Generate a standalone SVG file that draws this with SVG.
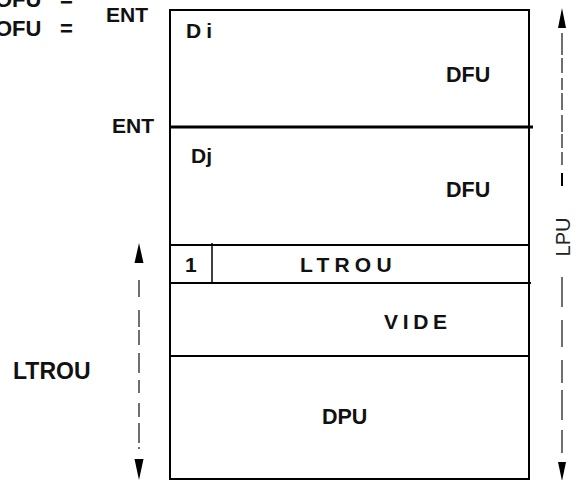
<svg xmlns="http://www.w3.org/2000/svg" width="586" height="480" viewBox="0 0 586 480">
  <style>
    .lbl { font-family: "Liberation Sans", Arial, sans-serif; font-weight: bold; fill: #111; }
    .thin { font-family: "Liberation Sans", Arial, sans-serif; font-weight: normal; fill: #222; }
    .wall { stroke: #000; stroke-width: 2; fill: none; }
    .heavy { stroke: #000; stroke-width: 3; fill: none; }
    .dim { stroke: #333; stroke-width: 1.4; fill: none; }
    .head { fill: #000; }
  </style>

  <rect width="586" height="480" fill="#fff"/>

  <!-- left-side annotations -->
  <g id="ofu-labels">
    <text class="lbl" x="-5" y="7" font-size="22">OFU<tspan x="60">=</tspan></text>
    <text class="lbl" x="-5" y="36" font-size="22">OFU<tspan x="60">=</tspan></text>
  </g>
  <g id="ent-1"><text class="lbl" x="106" y="22" font-size="21">ENT</text></g>
  <g id="ent-2"><text class="lbl" x="112" y="133" font-size="21">ENT</text></g>
  <g id="ltrou-dim-label"><text class="lbl" x="13" y="379" font-size="23">LTROU</text></g>

  <!-- outer frame of the stack -->
  <g id="frame">
    <path class="wall" d="M170,10 H529 V479 H170 Z"/>
  </g>

  <!-- block Di -->
  <g id="block-di">
    <text class="lbl" x="186" y="38" font-size="21" letter-spacing="5">Di</text>
    <text class="lbl" x="446" y="82" font-size="21.5">DFU</text>
  </g>

  <!-- block Dj -->
  <g id="block-dj">
    <line class="heavy" x1="171" y1="127" x2="533" y2="127"/>
    <text class="lbl" x="191" y="163" font-size="21">Dj</text>
    <text class="lbl" x="446" y="197" font-size="21.5">DFU</text>
  </g>

  <!-- hole header row -->
  <g id="hole-row">
    <line class="wall" x1="170" y1="245" x2="529" y2="245"/>
    <line class="wall" x1="170" y1="283" x2="531" y2="283"/>
    <line stroke="#000" stroke-width="1.5" x1="212" y1="243" x2="212" y2="283"/>
    <text class="lbl" x="185" y="272" font-size="21">1</text>
    <text class="lbl" x="300" y="272" font-size="21" letter-spacing="5.2">LTROU</text>
  </g>

  <!-- empty area -->
  <g id="vide">
    <text class="lbl" x="384" y="329" font-size="21" letter-spacing="4.7">VIDE</text>
  </g>

  <!-- DPU area -->
  <g id="dpu">
    <line class="wall" x1="170" y1="356" x2="530" y2="356"/>
    <text class="lbl" x="322" y="424" font-size="21.5">DPU</text>
  </g>

  <!-- dimension lines -->
  <g id="connectors">
    <!-- LTROU dimension (left) -->
    <g id="dim-ltrou">
      <polygon class="head" points="139,243 143.5,263 134.5,263"/>
      <path class="dim" d="M139,280 V297 M139,310 V327 M139,330 V345 M139,353 V373 M139,380 V393 M139,403 V417 M139,423 V443 M139,447 V449"/>
      <polygon class="head" points="134.5,459 143.5,459 139,480"/>
    </g>
    <!-- LPU dimension (right) -->
    <g id="dim-lpu">
      <polygon class="head" points="562,8 566,28 558,28"/>
      <path class="dim" stroke-width="1" d="M562,33 V55 M562,58 V73 M562,78 V90 M562,93 V110 M562,115 V132 M562,134 V148 M562,152 V165"/>
      <path stroke="#000" stroke-width="2" d="M562,173 V186"/>
      <text class="thin" font-size="20" text-anchor="middle" transform="translate(570,237) rotate(-90)">LPU</text>
      <path class="dim" d="M562,277 V307 M562,320 V347 M562,360 V383 M562,390 V420 M562,430 V453"/>
      <polygon class="head" points="558,462 566,462 562,481"/>
    </g>
  </g>
</svg>
